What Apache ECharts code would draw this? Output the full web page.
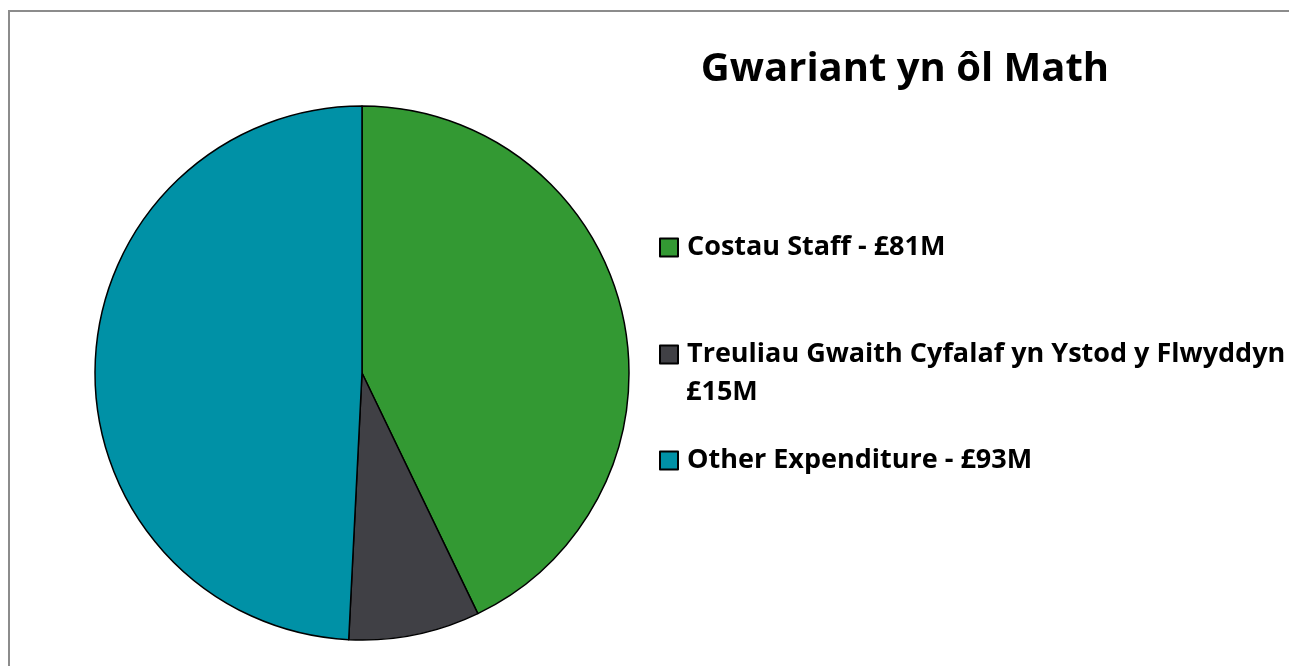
<!DOCTYPE html>
<html>
<head>
<meta charset="utf-8">
<script src="https://cdn.jsdelivr.net/npm/echarts@6/dist/echarts.min.js"></script>
<style>
html,body{margin:0;padding:0;background:#fff;}
#c{width:1289px;height:666px;}
</style>
</head>
<body>
<div id="c"></div>
<script>
const title = 'Gwariant yn ôl Math';
const categories = ['Costau Staff', 'Treuliau Gwaith Cyfalaf yn Ystod y Flwyddyn', 'Other Expenditure'];
const values = [81, 15, 93];
const colors = ['#339933', '#404045', '#0091a6'];

const FONT = '"Open Sans"';
const LEG_SIZE = 27;
const chart = echarts.init(document.getElementById('c'));
const money = (i) => '£' + values[i] + 'M';

const legendTops = [234, 341, 447];
const legends = categories.map((name, i) => ({
  orient: 'vertical',
  left: 659,
  top: legendTops[i],
  padding: 0,
  itemWidth: 18,
  itemHeight: 18,
  icon: 'rect',
  data: [name],
  formatter: (n) => i === 1 ? n + ' -' : n + ' - ' + money(i),
  textStyle: {
    fontFamily: FONT, fontWeight: 'bold', fontSize: LEG_SIZE, color: '#000',
    padding: [0, 0, 0, 4]
  }
}));

chart.setOption({
  animation: false,
  color: colors,
  title: {
    text: title,
    left: 905, top: 50,
    textAlign: 'center',
    padding: 0,
    textStyle: { fontFamily: FONT, fontWeight: 'bold', fontSize: 40, color: '#000' }
  },
  graphic: [{
    type: 'rect',
    shape: { x: 9, y: 11, width: 1300, height: 700 },
    style: { fill: 'none', stroke: '#8c8c8c', lineWidth: 2 },
    silent: true
  }, {
    type: 'text',
    x: 686, y: 392,
    style: {
      text: money(1),
      fontFamily: FONT, fontWeight: 'bold', fontSize: LEG_SIZE, fill: '#000',
      verticalAlign: 'middle'
    },
    silent: true
  }],
  legend: legends,
  series: [{
    type: 'pie',
    center: [362, 373],
    radius: 267,
    startAngle: 90,
    clockwise: true,
    label: { show: false },
    labelLine: { show: false },
    itemStyle: { borderColor: '#000', borderWidth: 1.5 },
    emphasis: { disabled: true },
    data: categories.map((n, i) => ({ name: n, value: values[i] }))
  }]
});
</script>
</body>
</html>
